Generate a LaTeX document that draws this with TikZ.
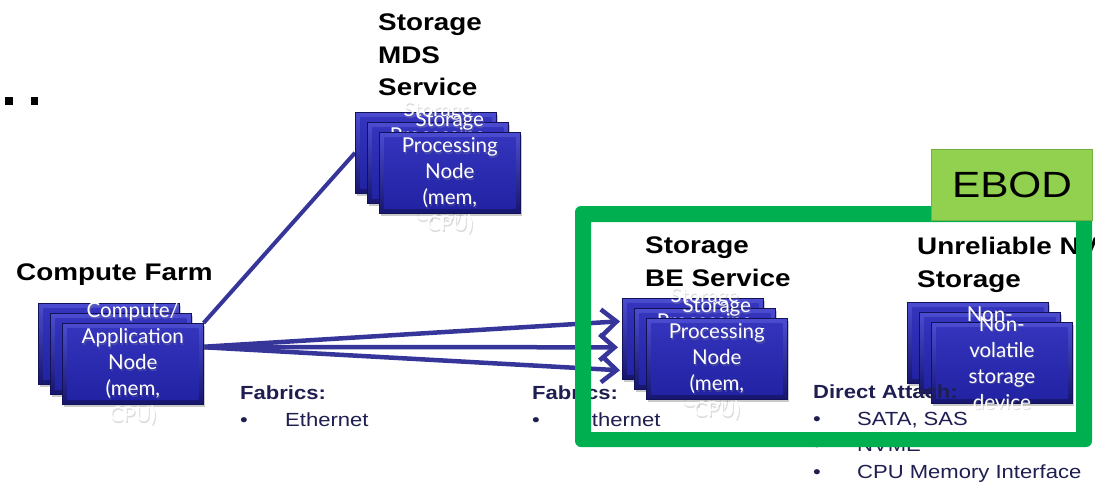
\documentclass[tikz,border=0pt]{standalone}
\usepackage{fontspec}
\setmainfont{Liberation Sans}[FakeStretch=1.16]
\newfontfamily\gillfont{Lato}
\usetikzlibrary{arrows.meta,calc,shadows}

\definecolor{slabtop}{HTML}{4C4CD2}
\definecolor{slabbot}{HTML}{16166E}
\definecolor{facetop}{HTML}{3535BE}
\definecolor{facebot}{HTML}{2121A2}
\definecolor{wire}{HTML}{35359A}
\definecolor{navy}{HTML}{1E1E50}
\definecolor{framegreen}{HTML}{00B050}
\definecolor{tabgreen}{HTML}{92D050}
\definecolor{tabedge}{HTML}{74B240}

\pgfdeclarelayer{wires}
\pgfsetlayers{wires,main}

% white caption with a soft grey shadow
\newcommand\slabcaption[3]{%
  \node[slabghost] at ($(#1.center)+(1,1.5)$) {#3};
  \node[slabtxt] (#2) at (#1.center) {#3};
}
% a stack of three bevelled slabs: #4 front caption, #5 middle caption
\newcommand\slabstack[5]{%
  \node[slab] (#11) at (#2,#3) {};
  \node[slab] (#12) at ({#2+12},{#3+10}) {};
  \ifx\relax#5\relax\else\slabcaption{#12}{#12t}{#5}\fi
  \node[slab] (#13) at ({#2+24},{#3+20}) {};
  \slabcaption{#13}{#13t}{#4}
}

\begin{document}
\begin{tikzpicture}[x=1pt,y=-1pt,
  slab/.style={rectangle, anchor=north west, minimum width=141pt, minimum height=81pt,
    inner sep=0pt, top color=slabtop, bottom color=slabbot,
    draw=slabbot!80!black, line width=0.6pt,
    drop shadow={shadow xshift=2pt, shadow yshift=-2.5pt, opacity=0.35, fill=black!60},
    path picture={\shade[top color=facetop, bottom color=facebot]
      ([shift={(5pt,-5pt)}]path picture bounding box.north west) rectangle
      ([shift={(-5pt,5pt)}]path picture bounding box.south east);}},
  slabtxt/.style={font=\gillfont\fontsize{20.5}{26}\selectfont, text=white,
    align=center, inner sep=0pt},
  slabghost/.style={slabtxt, text=black!45, opacity=0.3},
  head/.style={font=\bfseries\fontsize{24}{32.5}\selectfont, align=left,
    anchor=north west, inner sep=0pt},
  note/.style={font=\fontsize{19}{26.5}\selectfont, text=navy, align=left,
    anchor=north west, inner sep=0pt},
  link/.style={draw=wire, line width=4pt},
  feed/.style={draw=wire, line width=4.5pt, -{Straight Barb[length=15pt, width=26pt]}},
]
\useasboundingbox (0,0) rectangle (1095,483);

% leftover bullet marks
\fill (5.3,97.3) rectangle (12.7,105.3);
\fill (30.7,97.3) rectangle (38,105.3);

% processing stacks
\slabstack{mds}{355}{112}{Storage\\Processing\\Node\\(mem,\\CPU)}{Storage\\Processing\\Node\\(mem,\\CPU)}
\slabstack{cf}{38}{303}{Compute/\\Application\\Node\\(mem,\\CPU)}{}
\slabstack{be}{622}{298}{Storage\\Processing\\Node\\(mem,\\CPU)}{Storage\\Processing\\Node\\(mem,\\CPU)}
\slabstack{nv}{907}{302}{Non-\\volatile\\storage\\device}{Non-\\volatile\\storage\\device}

% connectors
\coordinate (cfport) at ($(cf3.north east)+(-4,24)$);
\coordinate (in1) at ($(be1.west)+(-2,-17.5)$);
\coordinate (in2) at ($(be1.west)+(-4,8.5)$);
\coordinate (in3) at ($(be1.west)+(-2,31.5)$);
\begin{pgfonlayer}{wires}
  \draw[link] (cf3.north east) -- (mds1.west);
  \draw[feed] (cfport) -- (in1);
  \draw[feed] (cfport) -- (in2);
  \draw[feed] (cfport) -- (in3);
\end{pgfonlayer}

% headings
\node[head] (mdshead) at (378,14) {Storage\\MDS\\Service};
\node[head] (cfhead) at (16,264) {Compute Farm};
\node[head] (behead) at (645,237) {Storage\\BE Service};
\node[head] (nvhead) at (917,237) {Unreliable NV\\Storage};

% link notes
\node[note] (fab1) at (240,386) {\textbf{Fabrics:}\\\makebox[45pt][l]{\textbullet}Ethernet};
\node[note] (fab2) at (532,386) {\textbf{Fabrics:}\\\makebox[45pt][l]{\textbullet}Ethernet};
\node[note] (attach) at (813,385) {\textbf{Direct Attach:}\\
  \makebox[44pt][l]{\textbullet}SATA, SAS\\
  \makebox[44pt][l]{\textbullet}NVME\\
  \makebox[44pt][l]{\textbullet}CPU Memory Interface};

% EBOD enclosure frame
\fill[framegreen, even odd rule] [rounded corners=6pt] (575,206) rectangle (1092,447)
  [sharp corners] (591,222) rectangle (1076,432);
\node[draw=tabedge, fill=tabgreen, line width=1pt, anchor=north west,
  minimum width=161pt, minimum height=71pt, inner sep=0pt,
  font=\fontsize{36.5}{40}\selectfont] (ebod) at (931,149) {EBOD};
\end{tikzpicture}
\end{document}
